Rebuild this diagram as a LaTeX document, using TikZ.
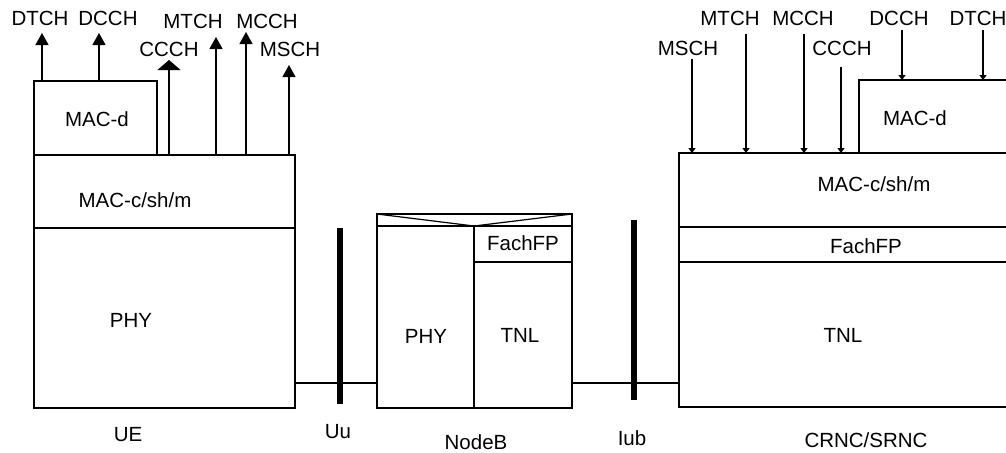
\documentclass[tikz,border=0pt]{standalone}
\usepackage{fontspec}
\setmainfont{Liberation Sans}
\usetikzlibrary{arrows.meta}
\begin{document}
\begin{tikzpicture}[x=0.5pt,y=-0.5pt,line width=0.6pt,
    font=\fontsize{10.25}{12}\selectfont,
    layer text/.style={inner sep=0pt},
    up arrow/.style={-{Triangle[length=6pt,width=6.5pt]}},
    wide arrow/.style={-{Triangle[length=5pt,width=11.5pt]}},
    down arrow/.style={-{Triangle[length=2.5pt,width=3.5pt]}},
    bar/.style={line width=2.7pt}]
  \useasboundingbox (0,0) rectangle (1006,452);
  \clip (0,0) rectangle (1006,452);

  % UE stack
  \draw (34,81) rectangle (157,155);
  \draw (34,155) rectangle (295,228);
  \draw (34,228) rectangle (295,408);
  \node[layer text] (ue macd) at (97,119) {MAC-d};
  \node[layer text] (ue macc) at (135,200) {MAC-c/sh/m};
  \node[layer text] (ue phy) at (131,320) {PHY};
  \node[layer text] (ue) at (128,435) {UE};

  \node[layer text] (ue dtch) at (40,18) {DTCH};
  \node[layer text] (ue dcch) at (108,18) {DCCH};
  \node[layer text] (ue ccch) at (169,49) {CCCH};
  \node[layer text] (ue mtch) at (193,21) {MTCH};
  \node[layer text] (ue mcch) at (267,21) {MCCH};
  \node[layer text] (ue msch) at (290,49) {MSCH};
  \coordinate (ue dtch b) at (42,81);   \coordinate (ue dtch t) at (42,33);
  \coordinate (ue dcch b) at (99,81);   \coordinate (ue dcch t) at (99,33);
  \coordinate (ue ccch b) at (169,155); \coordinate (ue ccch t) at (169,60);
  \coordinate (ue mtch b) at (216,155); \coordinate (ue mtch t) at (216,37);
  \coordinate (ue mcch b) at (246,155); \coordinate (ue mcch t) at (246,32);
  \coordinate (ue msch b) at (289,155); \coordinate (ue msch t) at (289,65);
  \draw[up arrow] (ue dtch b) -- (ue dtch t);
  \draw[up arrow] (ue dcch b) -- (ue dcch t);
  \draw[wide arrow] (ue ccch b) -- (ue ccch t);
  \draw[up arrow] (ue mtch b) -- (ue mtch t);
  \draw[up arrow] (ue mcch b) -- (ue mcch t);
  \draw[up arrow] (ue msch b) -- (ue msch t);

  % Uu
  \coordinate (uu top) at (340,228);
  \coordinate (uu bot) at (340,404);
  \draw[bar] (uu top) -- (uu bot);
  \node[layer text] (uu) at (338,432) {Uu};

  % NodeB
  \draw (377,214) rectangle (572,408);
  \draw (377,226) -- (572,226);
  \draw (377,214) -- (474,226) -- (572,214);
  \draw (474,226) -- (474,408);
  \draw (474,262) -- (572,262);
  \node[layer text] (nb phy) at (426,336) {PHY};
  \node[layer text] (nb fp) at (523,243) {FachFP};
  \node[layer text] (nb tnl) at (520,335) {TNL};
  \node[layer text] (nodeb) at (476,442) {NodeB};

  % Iub
  \coordinate (iub top) at (634,220);
  \coordinate (iub bot) at (634,400);
  \draw[bar,line width=3pt] (iub top) -- (iub bot);
  \node[layer text] (iub) at (632,438) {Iub};

  % links
  \coordinate (ue port) at (295,383);
  \coordinate (nb lport) at (377,383);
  \coordinate (nb rport) at (572,383);
  \coordinate (rnc port) at (679,383);
  \draw (ue port) -- (nb lport);
  \draw (nb rport) -- (rnc port);

  % CRNC/SRNC stack
  \draw (859,80) rectangle (1030,153);
  \draw (679,153) rectangle (1030,227);
  \draw (679,227) rectangle (1030,262);
  \draw (679,262) rectangle (1030,407);
  \node[layer text] (rnc macd) at (915,118) {MAC-d};
  \node[layer text] (rnc macc) at (874,184) {MAC-c/sh/m};
  \node[layer text] (rnc fp) at (866,246) {FachFP};
  \node[layer text] (rnc tnl) at (843,335) {TNL};
  \node[layer text] (rnc) at (866,440) {CRNC/SRNC};

  \node[layer text] (rnc msch) at (688,48) {MSCH};
  \node[layer text] (rnc mtch) at (730,18) {MTCH};
  \node[layer text] (rnc mcch) at (803,18) {MCCH};
  \node[layer text] (rnc ccch) at (842,48) {CCCH};
  \node[layer text] (rnc dcch) at (899,18) {DCCH};
  \node[layer text] (rnc dtch) at (978,18) {DTCH};
  \coordinate (rnc msch t) at (692,59);  \coordinate (rnc msch b) at (692,153);
  \coordinate (rnc mtch t) at (746,34);  \coordinate (rnc mtch b) at (746,153);
  \coordinate (rnc mcch t) at (804,34);  \coordinate (rnc mcch b) at (804,153);
  \coordinate (rnc ccch t) at (841,67);  \coordinate (rnc ccch b) at (841,153);
  \coordinate (rnc dcch t) at (902,30);  \coordinate (rnc dcch b) at (902,80);
  \coordinate (rnc dtch t) at (983,30);  \coordinate (rnc dtch b) at (983,80);
  \draw[down arrow] (rnc msch t) -- (rnc msch b);
  \draw[down arrow] (rnc mtch t) -- (rnc mtch b);
  \draw[down arrow] (rnc mcch t) -- (rnc mcch b);
  \draw[down arrow] (rnc ccch t) -- (rnc ccch b);
  \draw[down arrow] (rnc dcch t) -- (rnc dcch b);
  \draw[down arrow] (rnc dtch t) -- (rnc dtch b);
\end{tikzpicture}
\end{document}
